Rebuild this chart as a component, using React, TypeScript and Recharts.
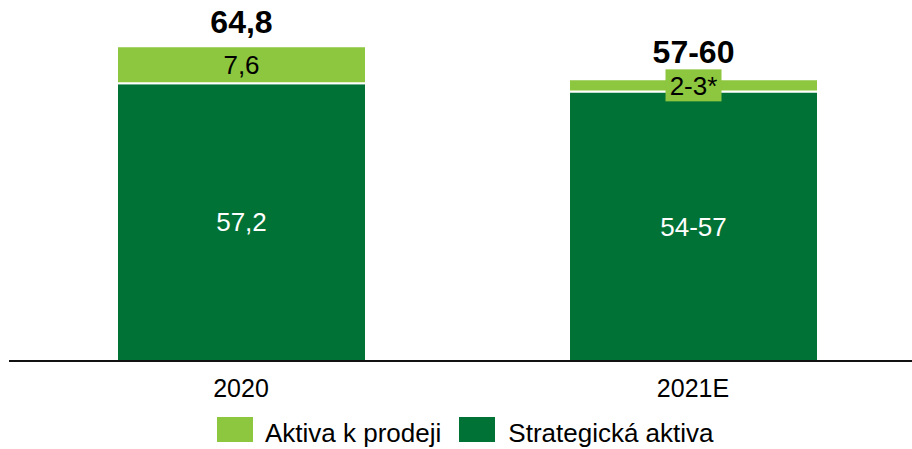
import React from 'react';
import { BarChart, Bar, XAxis, YAxis, LabelList } from 'recharts';

const categories = ['2020', '2021E'];
const strategicValues = [57.2, 55.5];
const forSaleValues = [7.6, 2.5];
const strategicLabels = ['57,2', '54-57'];
const forSaleLabels = ['7,6', '2-3*'];
const totalLabels = ['64,8', '57-60'];
const boxedForSale = [false, true];

const LIGHT = '#8DC63F';
const DARK = '#017236';
const FONT = "'Liberation Sans', Arial, sans-serif";

const data = categories.map((c, i) => ({
  year: c,
  strategic: strategicValues[i],
  forSale: forSaleValues[i],
}));

const ForSaleLabel = (props: any) => {
  const { x, y, width, height, index } = props;
  const cx = x + width / 2;
  const cy = y + height / 2;
  return (
    <g>
      {boxedForSale[index] && <rect x={cx - 28} y={cy - 16} width={56} height={32} fill={LIGHT} />}
      <text x={cx} y={cy} dy="0.36em" textAnchor="middle" fontSize={26} fontFamily={FONT} fill="#000">
        {forSaleLabels[index]}
      </text>
    </g>
  );
};

const TotalLabel = (props: any) => {
  const { x, y, width, index } = props;
  const lift = boxedForSale[index] ? 16 : 13;
  return (
    <text x={x + width / 2} y={y - lift} textAnchor="middle" fontSize={32} fontWeight="bold" fontFamily={FONT} fill="#000">
      {totalLabels[index]}
    </text>
  );
};

const StrategicLabel = (props: any) => {
  const { x, y, width, height, index } = props;
  return (
    <text x={x + width / 2} y={y + height / 2} dy="0.36em" textAnchor="middle" fontSize={26} fontFamily={FONT} fill="#fff">
      {strategicLabels[index]}
    </text>
  );
};

const App: React.FC = () => {
  return (
    <div style={{ position: 'absolute', left: 0, top: 0, width: 912, height: 449, overflow: 'hidden', background: '#fff', fontFamily: FONT }}>
      <BarChart width={920} height={449} data={data} margin={{ top: 21, right: 1, left: 9, bottom: 0 }}>
        <XAxis
          dataKey="year"
          height={88}
          padding={{ left: 6, right: 0 }}
          axisLine={{ stroke: '#111', strokeWidth: 2 }}
          tickLine={false}
          tickMargin={12}
          tick={{ fontSize: 25, fill: '#000', fontFamily: FONT }}
        />
        <YAxis hide domain={[0, 70]} />
        <Bar dataKey="strategic" stackId="a" fill={DARK} stroke="#fff" strokeWidth={2} barSize={249} isAnimationActive={false}>
          <LabelList dataKey="strategic" content={StrategicLabel} />
        </Bar>
        <Bar dataKey="forSale" stackId="a" fill={LIGHT} stroke="#fff" strokeWidth={2} barSize={249} isAnimationActive={false}>
          <LabelList dataKey="forSale" content={ForSaleLabel} />
          <LabelList dataKey="forSale" content={TotalLabel} />
        </Bar>
      </BarChart>
      <div style={{ position: 'absolute', top: 417, left: 217, display: 'flex', alignItems: 'flex-start', height: 26 }}>
        <div style={{ width: 36, height: 25, background: LIGHT, marginRight: 12 }} />
        <div style={{ fontSize: 26, lineHeight: '22px', marginTop: 5, color: '#000', marginRight: 18, whiteSpace: 'nowrap' }}>Aktiva k prodeji</div>
        <div style={{ width: 36, height: 25, background: DARK, marginRight: 13 }} />
        <div style={{ fontSize: 26, lineHeight: '22px', marginTop: 5, color: '#000', whiteSpace: 'nowrap' }}>Strategická aktiva</div>
      </div>
    </div>
  );
};

export default App;
